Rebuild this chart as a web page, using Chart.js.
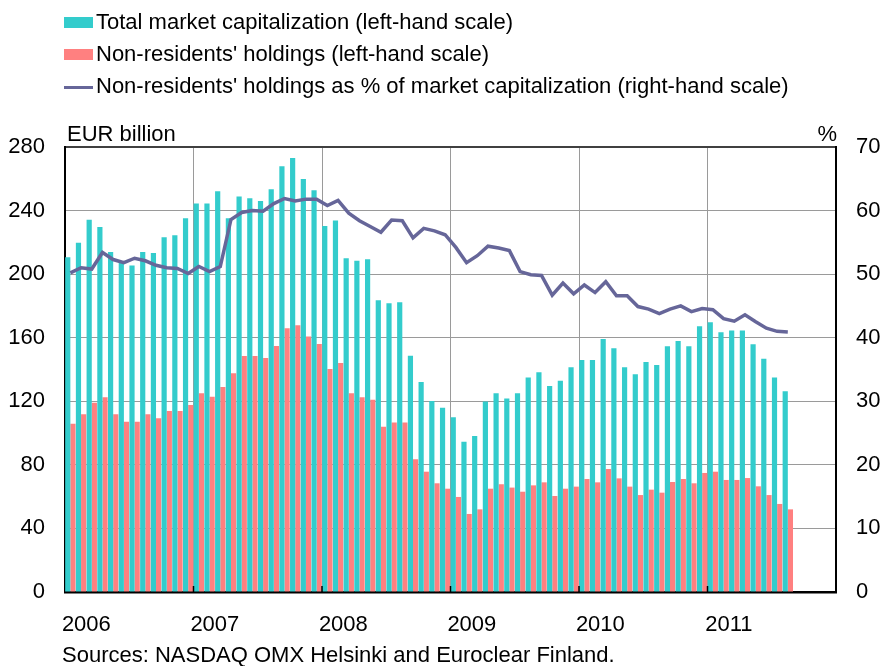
<!DOCTYPE html>
<html>
<head>
<meta charset="utf-8">
<script src="https://cdn.jsdelivr.net/npm/chart.js@4"></script>
<style>
  body { margin: 0; background: #fff; font-family: "Liberation Sans", Arial, sans-serif; }
  #wrap { position: relative; width: 884px; height: 666px; }
  canvas { position: absolute; left: 0; top: 0; }
  .txt { position: absolute; font-size: 22px; line-height: 22px; color: #000; white-space: nowrap; }
  .key { position: absolute; left: 64px; width: 29px; }
</style>
</head>
<body>
<div id="wrap">
  <canvas id="chart" width="884" height="666"></canvas>
  <div id="legend"></div>
  <div class="txt" style="left:67px; top:123px;">EUR billion</div>
  <div class="txt" style="right:47px; top:123px;">%</div>
  <div class="txt" style="left:62px; top:644px;">Sources: NASDAQ OMX Helsinki and Euroclear Finland.</div>
</div>
<script>
// monthly, Jan 2006 - Aug 2011; axis runs to end of 2011
const years = ['2006', '2007', '2008', '2009', '2010', '2011'];

// EUR billion
const totalCap = [
  210.6, 219.8, 234.3, 229.7, 214.0, 207.2, 205.4, 214.0, 213.3, 223.2, 224.5, 235.2,
  244.4, 244.4, 252.2, 235.2, 248.8, 247.7, 246.1, 253.4, 267.9, 273.1, 259.9, 252.8,
  230.3, 233.7, 210.0, 208.5, 209.4, 183.6, 181.7, 182.3, 148.7, 132.2, 120.2, 116.0,
  109.9, 94.6, 98.2, 119.8, 125.0, 121.7, 125.0, 134.9, 138.2, 129.6, 133.0, 141.4,
  146.0, 146.0, 159.2, 153.3, 141.4, 137.0, 144.7, 142.9, 154.6, 158.0, 154.6, 167.2,
  169.7, 163.4, 164.5, 164.5, 155.9, 146.8, 134.9, 126.3
];
const nonResidents = [
  105.9, 111.8, 119.1, 122.5, 111.8, 107.2, 107.2, 111.8, 109.3, 113.9, 113.9, 117.7,
  125.0, 122.9, 129.0, 137.6, 148.5, 148.5, 147.3, 154.8, 165.9, 167.8, 160.7, 156.1,
  140.3, 144.1, 125.0, 122.5, 121.0, 104.0, 106.6, 106.6, 83.5, 75.7, 68.4, 65.0,
  59.8, 49.1, 52.0, 65.0, 67.8, 65.7, 63.1, 67.1, 69.0, 60.4, 65.0, 66.3,
  71.1, 69.0, 77.4, 71.5, 66.3, 61.0, 64.4, 62.5, 69.2, 71.1, 68.4, 74.9,
  75.7, 70.5, 70.5, 71.7, 66.5, 61.0, 55.4, 52.0
];
// per cent
const sharePct = [
  50.2, 51.0, 50.8, 53.4, 52.3, 51.8, 52.5, 52.1, 51.4, 51.0, 50.9, 50.1,
  51.2, 50.4, 51.2, 58.6, 59.7, 60.0, 59.9, 61.1, 61.9, 61.5, 61.8, 61.8,
  60.8, 61.6, 59.6, 58.4, 57.5, 56.6, 58.5, 58.4, 55.7, 57.2, 56.8, 56.2,
  54.2, 51.8, 52.9, 54.4, 54.1, 53.7, 50.4, 49.9, 49.8, 46.7, 48.6, 46.9,
  48.3, 47.1, 48.8, 46.6, 46.6, 44.9, 44.5, 43.8, 44.5, 45.0, 44.1, 44.6,
  44.4, 43.0, 42.6, 43.6, 42.5, 41.5, 41.0, 40.9
];

const leftTicks = [0, 40, 80, 120, 160, 200, 240, 280];
const rightTicks = [0, 10, 20, 30, 40, 50, 60, 70];

const months = [];
years.forEach(y => { for (let m = 1; m <= 12; m++) months.push(y + '-' + String(m).padStart(2, '0')); });

const datasets = [
  { type: 'line', label: "Non-residents' holdings as % of market capitalization (right-hand scale)", data: sharePct,
    yAxisID: 'y1', borderColor: '#666699', borderWidth: 3.5, pointRadius: 0, tension: 0, order: 0 },
  { type: 'bar', label: 'Total market capitalization (left-hand scale)', data: totalCap,
    yAxisID: 'y', backgroundColor: '#33CCCC', order: 1 },
  { type: 'bar', label: "Non-residents' holdings (left-hand scale)", data: nonResidents,
    yAxisID: 'y', backgroundColor: '#FF8080', order: 1 }
];

// legend in the page, one row per series
const legend = document.getElementById('legend');
[datasets[1], datasets[2], datasets[0]].forEach((d, i) => {
  const top = 11 + i * 32;
  const key = d.type === 'line'
    ? `<div class="key" style="top:${top + 11}px;height:3px;background:${d.borderColor}"></div>`
    : `<div class="key" style="top:${top + 6}px;height:11px;background:${d.backgroundColor}"></div>`;
  legend.innerHTML += key + `<div class="txt" style="left:96px;top:${top}px">${d.label}</div>`;
});

// short inward tick marks on the bottom axis at each year boundary
const yearTicks = {
  id: 'yearTicks',
  afterDraw(chart) {
    const x = chart.scales.x, ctx = chart.ctx, b = chart.chartArea.bottom;
    ctx.save();
    ctx.strokeStyle = '#000';
    ctx.lineWidth = 1.5;
    for (let i = 12; i < months.length; i += 12) {
      const px = (x.getPixelForTick(i - 1) + x.getPixelForTick(i)) / 2;
      ctx.beginPath();
      ctx.moveTo(px, b - 6);
      ctx.lineTo(px, b);
      ctx.stroke();
    }
    ctx.restore();
  }
};

const tickFont = { family: '"Liberation Sans", Arial, sans-serif', size: 22 };

new Chart(document.getElementById('chart'), {
  data: { labels: months, datasets: datasets },
  plugins: [yearTicks],
  options: {
    responsive: false,
    devicePixelRatio: 1,
    animation: false,
    layout: { padding: { top: 147, left: 0, right: 0, bottom: 0 } },
    plugins: { legend: { display: false }, tooltip: { enabled: false } },
    datasets: { bar: { categoryPercentage: 0.97, barPercentage: 1.0 } },
    scales: {
      x: {
        offset: true,
        afterFit: s => { s.height = 74; },
        grid: {
          offset: true, drawTicks: false, lineWidth: 1,
          color: c => (c.index % 12 === 0 && c.index > 0 && c.index < months.length) ? '#9a9a9a' : 'rgba(0,0,0,0)'
        },
        border: { color: '#000', width: 2.5 },
        ticks: {
          autoSkip: false, maxRotation: 0, padding: 20, labelOffset: 16, color: '#000', font: tickFont,
          callback: function (v) { const l = this.getLabelForValue(v); return l.endsWith('-01') ? l.slice(0, 4) : ''; }
        }
      },
      y: {
        position: 'left', min: 0, max: 280,
        afterFit: s => { s.width = 65; },
        afterBuildTicks: s => { s.ticks = leftTicks.map(v => ({ value: v })); },
        grid: { drawTicks: false, color: c => c.tick && c.tick.value === 280 ? '#404040' : '#9a9a9a', lineWidth: c => c.tick && c.tick.value === 280 ? 2 : 1 },
        border: { color: '#000', width: 2 },
        ticks: { padding: 20, color: '#000', font: tickFont }
      },
      y1: {
        position: 'right', min: 0, max: 70,
        afterFit: s => { s.width = 48; },
        afterBuildTicks: s => { s.ticks = rightTicks.map(v => ({ value: v })); },
        grid: { display: false, drawTicks: false },
        border: { color: '#000', width: 2 },
        ticks: { padding: 20, color: '#000', font: tickFont }
      }
    }
  }
});
</script>
</body>
</html>
